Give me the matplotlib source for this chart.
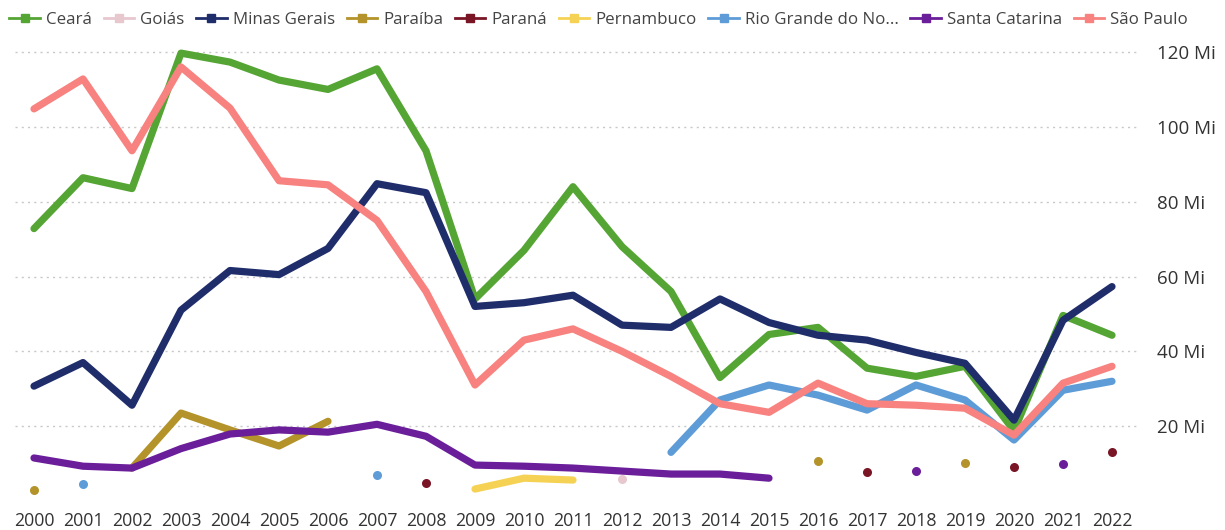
import numpy as np
import matplotlib
matplotlib.use("Agg")
import matplotlib.pyplot as plt
from matplotlib.lines import Line2D

years = list(range(2000, 2023))
nan = np.nan

ceara = [72.8, 86.4, 83.5, 119.7, 117.3, 112.5, 110.0, 115.5, 93.6, 54.0, 67.0, 84.0,
         68.0, 56.0, 33.0, 44.5, 46.4, 35.5, 33.3, 36.0, 18.8, 49.6, 44.3]
goias = [nan] * 12 + [5.9] + [nan] * 10
minas = [30.7, 37.0, 25.6, 51.0, 61.6, 60.5, 67.5, 84.8, 82.4, 52.0, 53.0, 55.0,
         47.0, 46.4, 54.0, 47.7, 44.3, 43.0, 39.7, 36.8, 21.6, 48.3, 57.3]
paraiba = [2.9, nan, 8.8, 23.5, 19.0, 14.7, 21.3, nan, nan, nan, nan, nan,
           nan, nan, nan, nan, 10.7, nan, nan, 10.1, nan, nan, nan]
parana = [nan, nan, nan, nan, nan, nan, nan, nan, 4.8, nan, nan, nan,
          nan, nan, nan, nan, nan, 7.7, nan, nan, 9.0, nan, 13.0]
pernambuco = [nan] * 9 + [3.2, 6.1, 5.6] + [nan] * 11
rgn = [nan, 4.5, nan, nan, nan, nan, nan, 7.0, nan, nan, nan, nan,
       nan, 13.0, 27.0, 31.0, 28.3, 24.3, 31.0, 27.0, 16.3, 29.6, 32.0]
santa_catarina = [11.5, 9.3, 8.8, 14.0, 17.9, 19.0, 18.4, 20.5, 17.3, 9.6, 9.3, 8.8,
                  8.0, 7.2, 7.2, 6.1, nan, nan, 8.0, nan, nan, 9.9, nan]
sao_paulo = [104.8, 112.8, 93.6, 116.0, 105.0, 85.6, 84.5, 75.0, 56.0, 31.0, 43.0, 46.0,
             40.0, 33.3, 26.0, 23.7, 31.5, 26.0, 25.6, 24.8, 17.6, 31.5, 36.0]

series_names = ["Ceará", "Goiás", "Minas Gerais", "Paraíba", "Paraná", "Pernambuco",
                "Rio Grande do No...", "Santa Catarina", "São Paulo"]
series_values = [ceara, goias, minas, paraiba, parana, pernambuco, rgn, santa_catarina, sao_paulo]
colors = ["#55A534", "#E8C8CF", "#1F2D6B", "#B3932A", "#7A1526", "#F5D253",
          "#5E9CD8", "#6A1E9A", "#F7827F"]

yticks = [20, 40, 60, 80, 100, 120]
ytick_labels = ["20 Mi", "40 Mi", "60 Mi", "80 Mi", "100 Mi", "120 Mi"]

plt.rcParams['font.family'] = ['Open Sans', 'DejaVu Sans']

W, H = 1225, 530
fig = plt.figure(figsize=(W / 100, H / 100), dpi=100)
left_px, right_px, bottom_px, top_px = 15, 1140, 501, 22
ax = fig.add_axes([left_px / W, (H - bottom_px) / H, (right_px - left_px) / W, (bottom_px - top_px) / H])

x0_px, x1_px = 34, 1112
ppy = (x1_px - x0_px) / 22.0
ax.set_xlim(2000 - (x0_px - left_px) / ppy, 2022 + (right_px - x1_px) / ppy)
ax.set_ylim(0, (bottom_px - top_px) / ((501 - 52) / 120.0))

x = np.array(years, dtype=float)
for name, vals, c in zip(series_names, series_values, colors):
    v = np.array(vals, dtype=float)
    ax.plot(x, v, color=c, lw=5.2, solid_capstyle='round', solid_joinstyle='round', zorder=3)
    valid = ~np.isnan(v)
    prev = np.concatenate([[False], valid[:-1]])
    nxt = np.concatenate([valid[1:], [False]])
    iso = valid & ~prev & ~nxt
    ax.plot(x[iso], v[iso], 'o', color=c, markersize=6.5, markeredgewidth=0, zorder=3)

for yt in yticks:
    ax.axhline(yt, color="#C8C8C8", lw=1.0, ls=(0, (1.5, 3)), zorder=1)

ax.set_yticks(yticks)
ax.set_yticklabels(ytick_labels)
ax.yaxis.tick_right()
ax.tick_params(axis='y', length=0, pad=12, labelsize=13.5, labelcolor="#333333")
ax.set_xticks(years)
ax.set_xticklabels([str(y) for y in years])
ax.tick_params(axis='x', length=0, pad=8, labelsize=12.8, labelcolor="#333333")
for s in ax.spines.values():
    s.set_visible(False)

handles = [Line2D([0], [0], color=c, lw=2, marker='s', markersize=6) for c in colors]
fig.legend(handles, series_names, loc='upper left', bbox_to_anchor=(-0.002, 1.0), ncol=9,
           frameon=False, fontsize=12.2, handlelength=1.8, handletextpad=0.35,
           columnspacing=0.7, labelcolor="#444444", borderaxespad=0.3)

fig.savefig("out.png", dpi=100)
